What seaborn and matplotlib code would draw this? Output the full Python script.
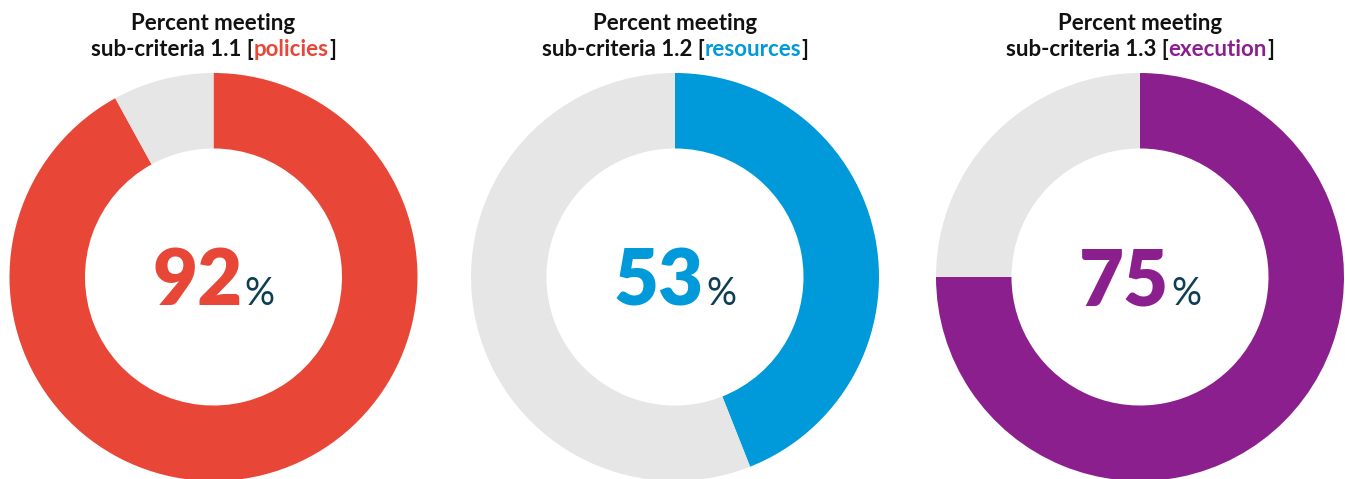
import matplotlib
matplotlib.use("Agg")
import matplotlib.pyplot as plt
import seaborn as sns

# ---- data ----
criteria = ["1.1", "1.2", "1.3"]
categories = ["policies", "resources", "execution"]
label_pct = [92, 53, 75]          # number printed in the centre
arc_pct = [92, 44, 75]            # share of the ring drawn in colour
colors = ["#E84637", "#0099DA", "#8B1F8E"]
rest_color = "#E6E6E6"
pct_color = "#0E3E55"

sns.set_theme(style="white")
plt.rcParams["font.family"] = ["Lato", "DejaVu Sans"]

W, H = 1345, 479
fig = plt.figure(figsize=(W / 100, H / 100), dpi=100)
fig.patch.set_facecolor("white")

centers_x = [213.5, 675, 1140]
center_y = H - 277
R = 204

renderer = fig.canvas.get_renderer()


def text_width(s, **kw):
    t = fig.text(0, 0, s, **kw)
    w = t.get_window_extent(renderer=renderer).width
    t.remove()
    return w


def draw_pieces(pieces, cx, y, **kw):
    widths = [text_width(s, color=c, **kw) for s, c in pieces]
    x = cx - sum(widths) / 2
    for (s, c), w in zip(pieces, widths):
        fig.text(x / W, y / H, s, color=c, ha="left", va="baseline", **kw)
        x += w


for i in range(3):
    cx = centers_x[i]
    ax = fig.add_axes([(cx - R) / W, (center_y - R) / H, 2 * R / W, 2 * R / H])
    ax.pie([arc_pct[i], 100 - arc_pct[i]], colors=[colors[i], rest_color],
           startangle=90, counterclock=False, radius=1,
           wedgeprops=dict(width=0.37, edgecolor="none", linewidth=0))
    ax.set_xlim(-1, 1)
    ax.set_ylim(-1, 1)
    ax.set_aspect("equal")
    ax.axis("off")

    # titles
    tkw = dict(fontsize=16, fontweight="bold")
    draw_pieces([("Percent meeting", "#111111")], cx, H - 30, **tkw)
    draw_pieces([(f"sub-criteria {criteria[i]} [", "#111111"),
                 (categories[i], colors[i]),
                 ("]", "#111111")], cx, H - 56, **tkw)

    # centre number
    num = str(label_pct[i])
    wn = text_width(num, fontsize=56, fontweight="heavy")
    wp = text_width("%", fontsize=27, fontweight="normal")
    gap = 2
    total = wn + gap + wp
    x0 = cx - total / 2
    yb = H - 305
    fig.text(x0 / W, yb / H, num, color=colors[i], fontsize=56, fontweight="heavy",
             ha="left", va="baseline")
    fig.text((x0 + wn + gap) / W, yb / H, "%", color=pct_color, fontsize=27,
             ha="left", va="baseline")

fig.savefig("out.png", dpi=100, facecolor="white")
